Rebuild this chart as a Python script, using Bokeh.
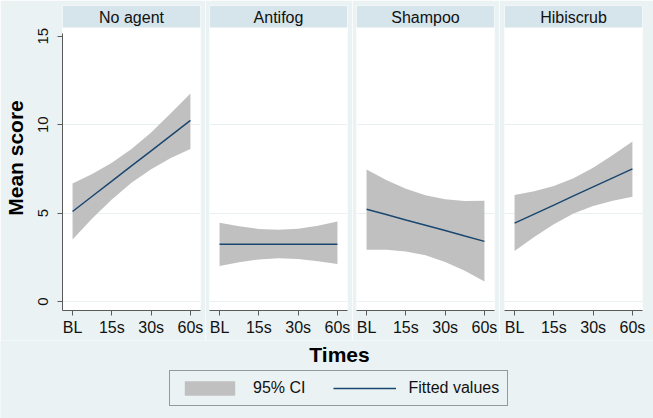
from bokeh.plotting import figure
from bokeh.layouts import row, column
from bokeh.models import Range1d, FixedTicker, BoxAnnotation, Label, Legend, LegendItem, ColumnDataSource
from bokeh.embed import file_html
from bokeh.resources import INLINE

# ---------------- data ----------------
panels = ["No agent", "Antifog", "Shampoo", "Hibiscrub"]
time_labels = ["BL", "15s", "30s", "60s"]
time_pos = [0, 1, 2, 3]
x_read = [0, 0.5, 1, 1.5, 2, 2.5, 3]

fit_noagent = [5.09, 5.95, 6.81, 7.67, 8.52, 9.38, 10.24]
upper_noagent = [6.67, 7.21, 7.85, 8.62, 9.56, 10.64, 11.76]
lower_noagent = [3.51, 4.69, 5.77, 6.72, 7.48, 8.12, 8.62]

fit_antifog = [3.23, 3.23, 3.23, 3.23, 3.23, 3.23, 3.23]
upper_antifog = [4.45, 4.25, 4.10, 4.05, 4.11, 4.28, 4.53]
lower_antifog = [2.01, 2.22, 2.38, 2.44, 2.40, 2.27, 2.12]

fit_shampoo = [5.22, 4.92, 4.61, 4.31, 4.01, 3.70, 3.40]
upper_shampoo = [7.47, 6.87, 6.37, 6.01, 5.78, 5.68, 5.70]
lower_shampoo = [2.92, 2.93, 2.83, 2.61, 2.24, 1.74, 1.13]

fit_hibiscrub = [4.43, 4.94, 5.45, 5.97, 6.48, 6.99, 7.50]
upper_hibiscrub = [6.02, 6.23, 6.53, 6.97, 7.56, 8.28, 9.05]
lower_hibiscrub = [2.85, 3.65, 4.37, 4.97, 5.40, 5.70, 5.92]

y_ticks = [0, 5, 10, 15]
grid_ticks = [0, 5, 10]

series = [
    (fit_noagent, upper_noagent, lower_noagent),
    (fit_antifog, upper_antifog, lower_antifog),
    (fit_shampoo, upper_shampoo, lower_shampoo),
    (fit_hibiscrub, upper_hibiscrub, lower_hibiscrub),
]

# ---------------- style ----------------
FONT = "Liberation Sans"
OUTER = "#EAF2F3"
STRIP = "#D6E4EB"
BAND = "#C0C0C0"
LINE = "#1A476F"
AXIS = "#5A5A5A"
GRID = "#E8F0F2"

X0, X1 = -0.256, 3.256
Y0, YPLOT, Y1 = -0.51, 15.5, 16.74

FRAME_W = 138
FRAME_H = 305
TOP = 5
BOTTOM = 30

borders = [(62, 5), (4, 5), (4, 5), (5, 11)]

figs = []
for i, (name, (fit, up, lo)) in enumerate(zip(panels, series)):
    bl, br = borders[i]
    p = figure(width=bl + FRAME_W + br, height=TOP + FRAME_H + BOTTOM,
               x_range=Range1d(X0, X1), y_range=Range1d(Y0, Y1),
               output_backend="svg", toolbar_location=None,
               min_border_left=bl, min_border_right=br,
               min_border_top=TOP, min_border_bottom=BOTTOM)
    p.background_fill_color = "white"
    p.border_fill_color = OUTER
    p.outline_line_color = None
    p.xgrid.visible = False
    p.ygrid.ticker = FixedTicker(ticks=grid_ticks)
    p.ygrid.grid_line_color = GRID
    p.ygrid.grid_line_width = 1

    # strip header
    p.add_layout(BoxAnnotation(bottom=YPLOT, fill_color=STRIP, fill_alpha=1.0, line_color=None, level="underlay"))
    p.add_layout(Label(x=(X0 + X1) / 2, y=(YPLOT + Y1) / 2 - 0.06, text=name,
                       text_align="center", text_baseline="middle",
                       text_font=FONT, text_font_size="16px", text_color="#111111"))

    p.varea(x=x_read, y1=lo, y2=up, fill_color=BAND, fill_alpha=1.0)
    p.line(x=x_read, y=fit, line_color=LINE, line_width=1.5)

    # x axis
    xa = p.xaxis[0]
    xa.ticker = FixedTicker(ticks=time_pos)
    xa.major_label_overrides = {t: lab for t, lab in zip(time_pos, time_labels)}
    xa.minor_tick_line_color = None
    xa.major_tick_out = 5
    xa.major_tick_in = 0
    xa.axis_line_color = AXIS
    xa.major_tick_line_color = AXIS
    xa.major_label_text_font = FONT
    xa.major_label_text_font_size = "16px"
    xa.major_label_text_color = "#111111"
    xa.major_label_standoff = 3

    ya = p.yaxis[0]
    if i == 0:
        ya.ticker = FixedTicker(ticks=y_ticks)
        ya.bounds = (Y0, 15.15)
        ya.minor_tick_line_color = None
        ya.major_tick_out = 5
        ya.major_tick_in = 0
        ya.axis_line_color = AXIS
        ya.major_tick_line_color = AXIS
        ya.major_label_orientation = "vertical"
        ya.major_label_text_font = FONT
        ya.major_label_text_font_size = "15px"
        ya.major_label_text_color = "#111111"
        ya.major_label_standoff = 9
        ya.axis_label = "Mean score"
        ya.axis_label_text_font = FONT
        ya.axis_label_text_font_size = "21px"
        ya.axis_label_text_font_style = "bold"
        ya.axis_label_text_color = "#000000"
        ya.axis_label_standoff = 9
    else:
        ya.visible = False
    figs.append(p)

# ---------------- bottom: axis title + legend ----------------
BW, BH = 653, 78
b = figure(width=BW, height=BH, x_range=Range1d(0, BW), y_range=Range1d(0, BH),
           output_backend="svg", toolbar_location=None,
           min_border_left=0, min_border_right=0, min_border_top=0, min_border_bottom=0)
b.axis.visible = False
b.grid.visible = False
b.outline_line_color = None
b.background_fill_color = OUTER
b.border_fill_color = OUTER
b.add_layout(Label(x=339, y=BH - 14, text="Times", text_align="center", text_baseline="middle",
                   text_font=FONT, text_font_size="21px", text_font_style="bold", text_color="#000000"))

nan = float("nan")
legend_src = ColumnDataSource(data=dict(x=[nan], y1=[nan], y2=[nan]))
r_band = b.varea(x="x", y1="y1", y2="y2", source=legend_src, fill_color=BAND, fill_alpha=1.0)
r_line = b.line(x="x", y="y1", source=legend_src, line_color=LINE, line_width=1.5)
leg = Legend(items=[LegendItem(label="95% CI", renderers=[r_band]),
                    LegendItem(label="Fitted values", renderers=[r_line])],
             orientation="horizontal", location=(169, 12),
             glyph_width=63, glyph_height=18, label_standoff=12, spacing=28,
             padding=8, margin=0,
             label_text_font=FONT, label_text_font_size="16px", label_text_color="#111111",
             border_line_color="#404040", border_line_width=1,
             background_fill_color=OUTER, background_fill_alpha=1.0)
b.add_layout(leg)

layout = column(row(*figs, spacing=0), b, spacing=0)

html = file_html(layout, INLINE)
html = html.replace("<body>", '<body style="background-color:%s;">' % OUTER, 1)
open("out.html", "w").write(html)
